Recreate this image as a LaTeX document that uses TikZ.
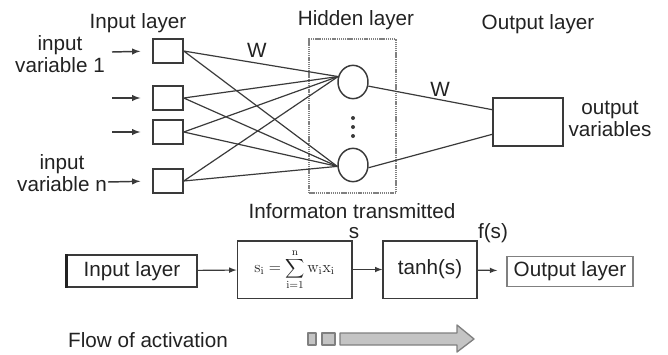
\documentclass[tikz,border=0pt]{standalone}
\usepackage[no-math]{fontspec}
\setmainfont{Liberation Sans}
\usepackage{tikz}
\usetikzlibrary{arrows}
\definecolor{ink}{HTML}{222222}
\definecolor{edge}{HTML}{3A3A3A}
\definecolor{flowgray}{HTML}{C4C4C4}
\tikzstyle{txt}=[anchor=base, inner sep=0pt, text=ink, font=\fontsize{15.5}{18}\selectfont]
\tikzstyle{inbox}=[rectangle, draw=edge, line width=1.1pt, minimum width=22.5pt, minimum height=18pt, inner sep=0pt]
\tikzstyle{hid}=[ellipse, draw=edge, line width=1.1pt, minimum width=22.5pt, minimum height=25pt, inner sep=0pt]
\tikzstyle{flowbox}=[rectangle, draw=edge, line width=1pt, inner sep=0pt, text=ink, font=\fontsize{15.5}{18}\selectfont]
\tikzstyle{dot}=[circle, fill=edge, inner sep=0pt, minimum size=3pt]
\tikzstyle{flow}=[draw=gray, fill=flowgray, line width=1pt, line join=round]
\usetikzlibrary{shapes.geometric}

\begin{document}
\begin{tikzpicture}[x=0.75pt,y=-0.75pt,line width=0.9pt,draw=edge]
\useasboundingbox (0,0) rectangle (668,354);
			\node[txt] (inlab) at (138,28) {Input layer};
			\node[txt] (hidlab) at (356,25) {Hidden layer};
			\node[txt] (outlab) at (538,29) {Output layer};
			\node[txt] (var1a) at (60,50) {input};
			\node[txt] (var1b) at (60,72) {variable 1};
			\node[txt] (varna) at (62,169) {input};
			\node[txt] (varnb) at (62,191) {variable n};
			\node[txt] (outvara) at (610,114) {output};
			\node[txt] (outvarb) at (610,136) {variables};
			\node[txt] (w1) at (257,57) {W};
			\node[txt] (w2) at (440,96) {W};
			\node[inbox] (i1) at (168,51) {};
			\node[inbox] (i2) at (168,98) {};
			\node[inbox] (i3) at (168,132) {};
			\node[inbox] (i4) at (168,181) {};
			\coordinate (a1) at (112,52);
			\coordinate (a2) at (112,98);
			\coordinate (a3) at (112,132);
			\coordinate (a4) at (108,182);
			\node[draw=gray, dash pattern=on 1pt off 0.6pt, line width=1.3pt, minimum width=65pt, minimum height=115.5pt] (hbox) at (352.5,116) {};
			\node[hid] (h1) at (353,82) {};
			\node[hid] (h2) at (353,165) {};
			\node[dot] (d1) at (353,118) {};
			\node[dot] (d2) at (353,127) {};
			\node[dot] (d3) at (353,136) {};
			\node[inbox, minimum width=52.5pt, minimum height=36pt] (o) at (528,122) {};
			\foreach \k in {1,2,3,4}
				\draw[-latex, line width=1.1pt, shorten >=9pt] (a\k) -- (i\k.west);
			\foreach \k in {1,2,3,4}
				\path[draw=edge]
					(i\k.east) -- (h1.160)
					(i\k.east) -- (h2.185);
			\path[draw=edge]
				(h1.-15) -- (o.161)
				(h2.-10) -- (o.199);
			\node[txt] (info) at (352,218) {Informaton transmitted};
			\node[flowbox, minimum width=97.5pt, minimum height=24pt] (bin) at (132,271) {Input layer};
			\node[flowbox, minimum width=86pt, minimum height=43pt, font=\fontsize{12}{13}\selectfont] (bsum) at (294.5,269.5) {$\displaystyle\mathrm{s_i=\sum_{i=1}^{n} w_i x_i}$};
			\node[flowbox, minimum width=70.5pt, minimum height=43pt] (btanh) at (430,269.5) {tanh(s)};
			\node[flowbox, draw=gray, line width=0.8pt, minimum width=94.5pt, minimum height=23pt] (bout) at (570,271.5) {Output layer};
			\draw[line width=2pt, draw=ink] (bin.north west) -- (bin.south west);
			\node[txt] (slab) at (354,238) {s};
			\node[txt] (fslab) at (493,238) {f(s)};
			\path[draw=edge, -latex]
				(bin) edge (bsum)
				(bsum) edge (btanh);
			\draw[-latex, shorten >=7pt] (btanh) -- (bout);
			\node[txt] (flowlab) at (148,347) {Flow of activation};
			\path[flow] (308,333) rectangle (316,345);
			\path[flow] (322,333) rectangle (335,345);
			\path[flow] (340,333) -- (457,333) -- (457,325) -- (474,339) -- (457,352) -- (457,345) -- (340,345) -- cycle;
		\end{tikzpicture}
\end{document}
